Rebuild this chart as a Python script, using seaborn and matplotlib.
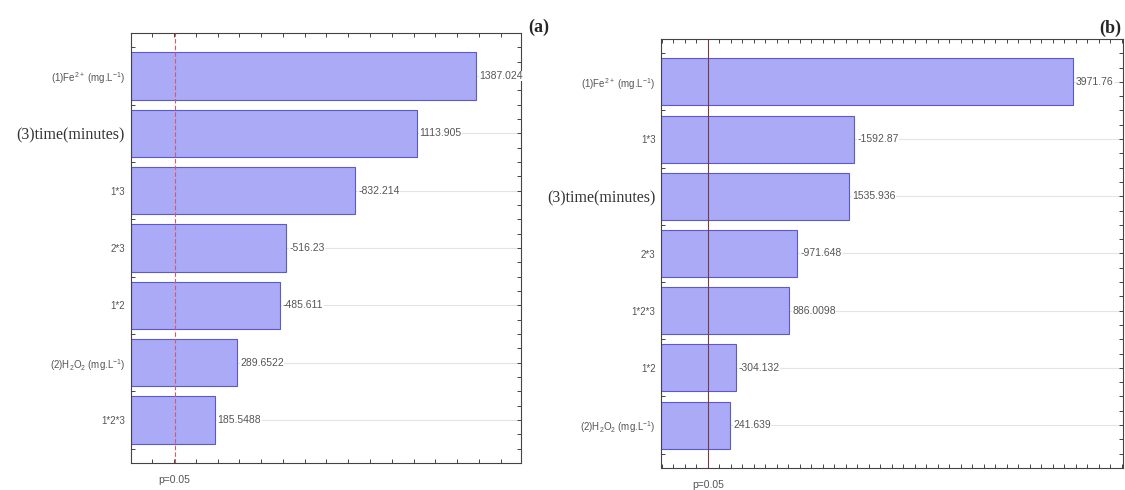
import pandas as pd
import seaborn as sns
import matplotlib.pyplot as plt
from matplotlib.ticker import MultipleLocator

# --- data (effect estimates, signed) ---
FE = r"(1)Fe$^{2+}$ (mg.L$^{-1}$)"
H2O2 = r"(2)H$_2$O$_2$ (mg.L$^{-1}$)"
TIME = "(3)time(minutes)"

terms_a = [FE, TIME, "1*3", "2*3", "1*2", H2O2, "1*2*3"]
effects_a = [1387.024, 1113.905, -832.214, -516.23, -485.611, 289.6522, 185.5488]

terms_b = [FE, "1*3", TIME, "2*3", "1*2*3", "1*2", H2O2]
effects_b = [3971.76, -1592.87, 1535.936, -971.648, 886.0098, -304.132, 241.639]

P_CRIT = 2.3  # p = 0.05 reference line

# axis ranges (bars start at the left edge of the axis)
xrange_a = (-200.5, 1591.4)
xrange_b = (-508.8, 4515.7)

BAR_FILL = "#aaaaf6"
BAR_EDGE = "#5a5ad0"
TXT = "#555555"

sns.set_style("white")
plt.rcParams["font.family"] = ["Liberation Sans", "DejaVu Sans"]
plt.rcParams["mathtext.fontset"] = "custom"
plt.rcParams["mathtext.rm"] = "Liberation Sans"
plt.rcParams["mathtext.it"] = "Liberation Sans:italic"

fig = plt.figure(figsize=(11.25, 4.9), dpi=100)
W, H = 1125, 490


def px_axes(x0, x1, y0, y1):
    return fig.add_axes([x0 / W, 1 - y1 / H, (x1 - x0) / W, (y1 - y0) / H])


def pareto(ax, terms, effects, xr, tick_step, pline_kw):
    df = pd.DataFrame({"term": terms, "effect": effects})
    df["size"] = df["effect"].abs()
    df["span"] = df["size"] - xr[0]

    # horizontal guide lines behind everything
    for i in range(len(df)):
        ax.axhline(i, color="#e4e4e4", lw=0.8, zorder=0)

    sns.barplot(data=df, x="span", y="term", orient="h", ax=ax,
                color=BAR_FILL, saturation=1, width=0.82,
                edgecolor=BAR_EDGE, linewidth=0.8, left=xr[0], zorder=2)

    for i, row in df.iterrows():
        ax.annotate(str(row["effect"]), xy=(row["size"], i),
                    xytext=(2.2, 0), textcoords="offset points",
                    ha="left", va="center", fontsize=7.5, color=TXT, zorder=3,
                    bbox=dict(facecolor="white", edgecolor="none", pad=0.3),
                    annotation_clip=False)

    ax.axvline(P_CRIT, zorder=2.5, **pline_kw)
    ax.annotate("p=0.05", xy=(P_CRIT, 0), xycoords=("data", "axes fraction"),
                xytext=(0, -12), textcoords="offset points",
                ha="center", va="center", fontsize=7.5, color=TXT)

    ax.set_xlim(*xr)
    ax.set_ylim(len(df) - 0.25, -0.75)
    ax.set_xlabel("")
    ax.set_ylabel("")

    ax.xaxis.set_major_locator(MultipleLocator(tick_step))
    ax.set_xticklabels([])
    ax.tick_params(axis="x", which="both", direction="in", length=3,
                   top=True, bottom=True, color="#444444", width=0.7)
    ax.yaxis.set_minor_locator(MultipleLocator(0.25))
    ax.tick_params(axis="y", which="both", direction="in", length=3,
                   left=True, right=True, color="#444444", width=0.7, pad=4)

    for spine in ax.spines.values():
        spine.set_color("#444444")
        spine.set_linewidth(0.8)

    for lbl in ax.get_yticklabels():
        if lbl.get_text() == TIME:
            lbl.set_fontfamily(["Liberation Serif", "DejaVu Serif"])
            lbl.set_fontsize(11.5)
            lbl.set_color("#333333")
        else:
            lbl.set_fontsize(7)
            lbl.set_color(TXT)


ax_a = px_axes(130.5, 520.5, 33, 463)
pareto(ax_a, terms_a, effects_a, xrange_a, 100,
       dict(color="#d45a6a", lw=0.8, linestyle=(0, (4, 2))))

ax_b = px_axes(661, 1123, 39, 468)
pareto(ax_b, terms_b, effects_b, xrange_b, 125,
       dict(color="#7a3a44", lw=0.8, linestyle="-"))

fig.text(528 / W, 1 - 27 / H, "(a)", fontsize=13, fontweight="bold",
         family=["Liberation Serif", "DejaVu Serif"], ha="left", va="center")
fig.text(1099 / W, 1 - 28 / H, "(b)", fontsize=13, fontweight="bold",
         family=["Liberation Serif", "DejaVu Serif"], ha="left", va="center")

fig.savefig("out.png", dpi=100)
